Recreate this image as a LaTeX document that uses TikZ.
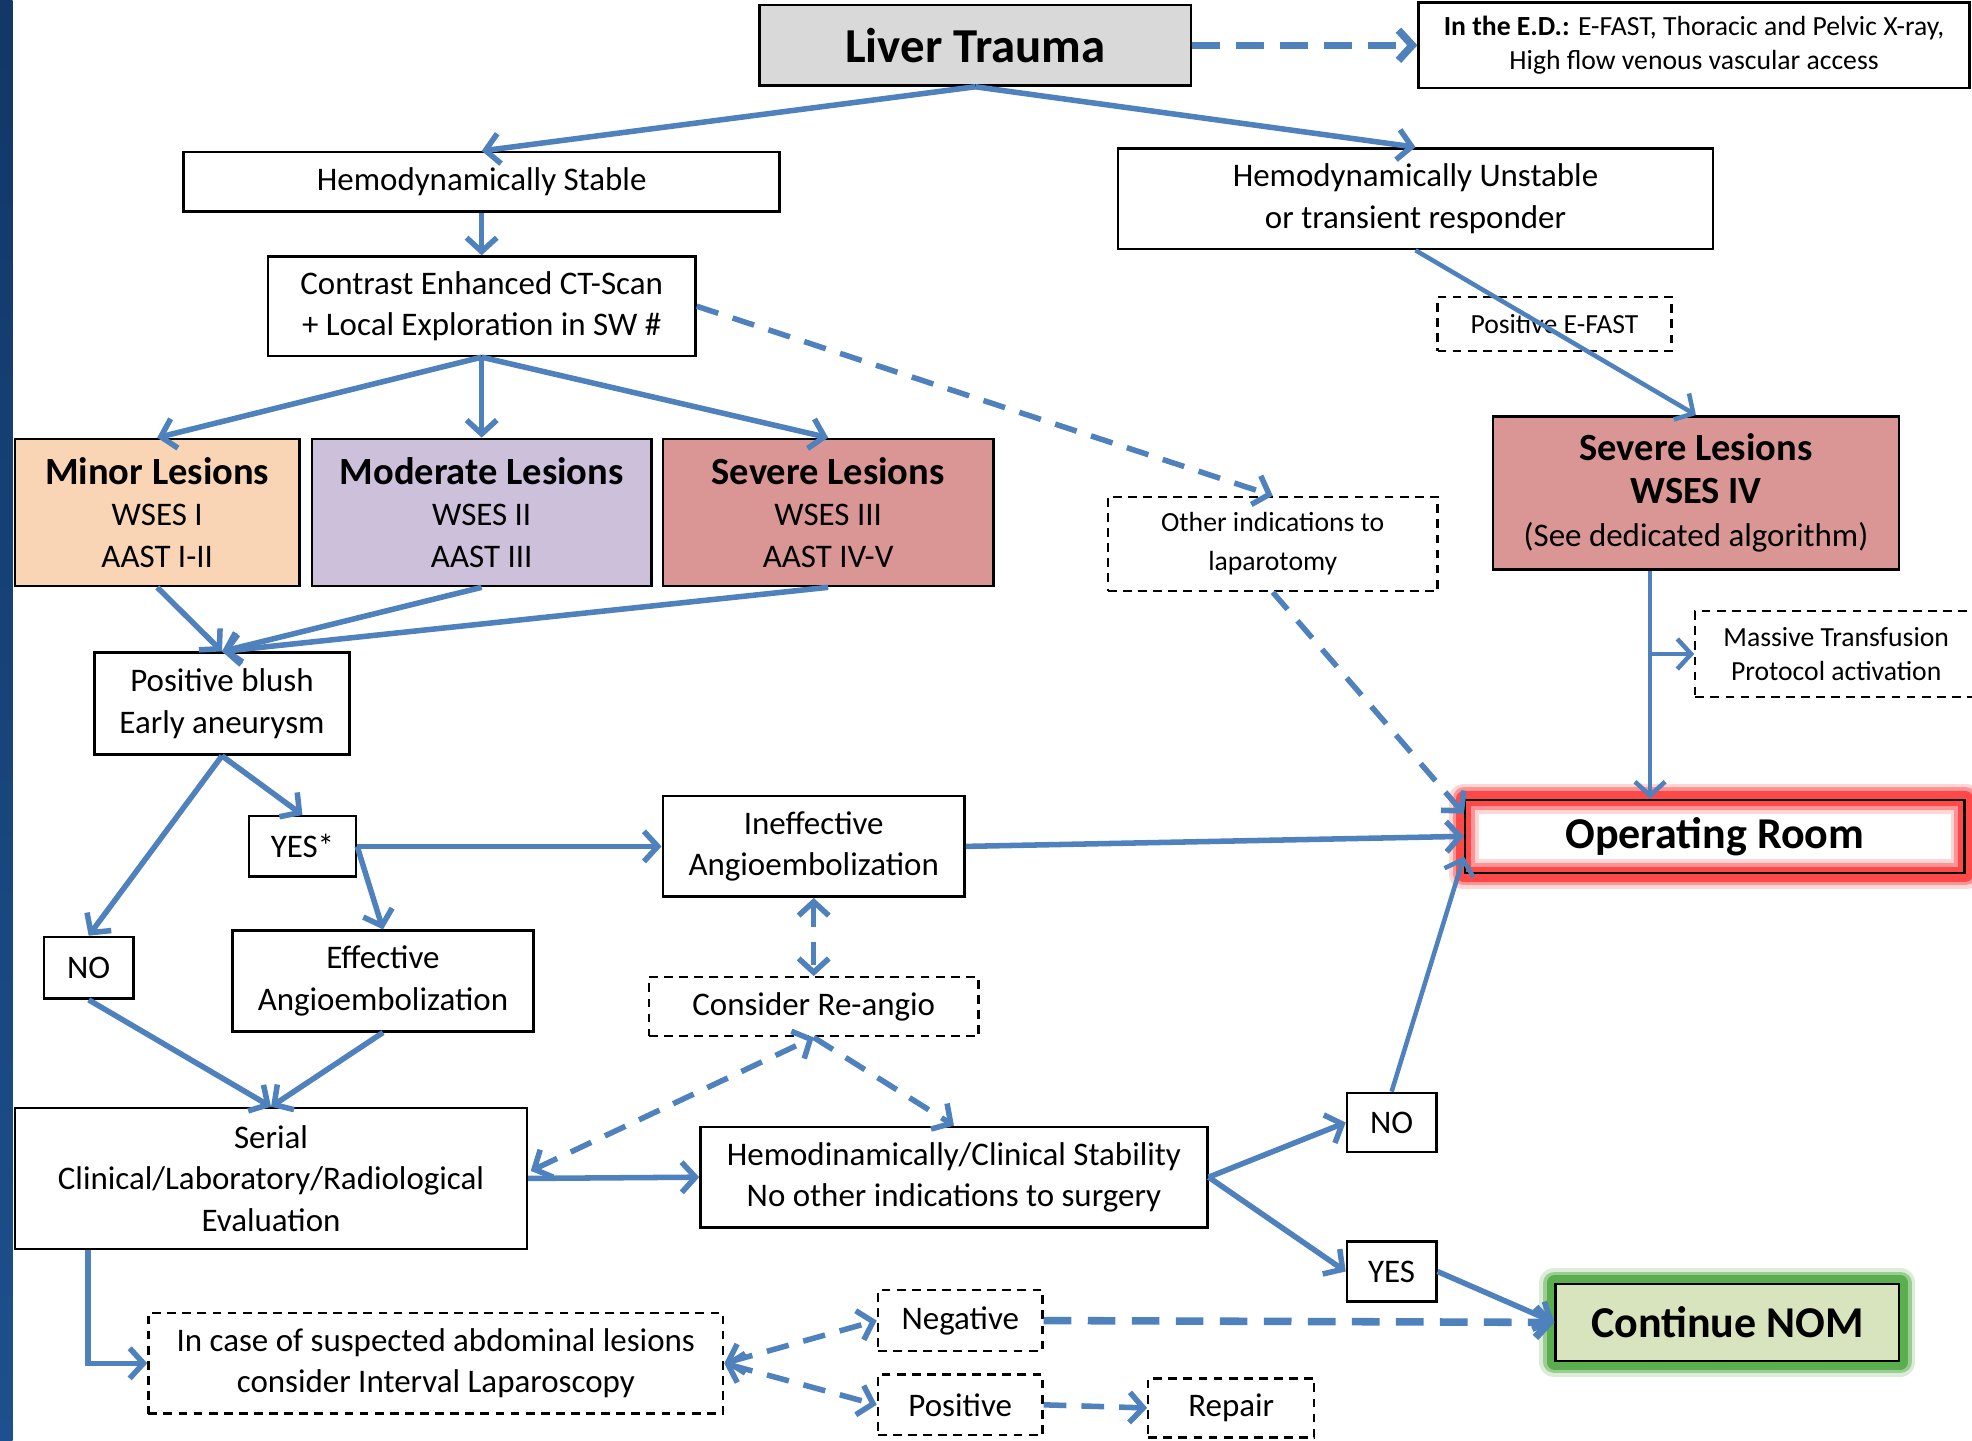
\documentclass[tikz,border=0pt]{standalone}
\usepackage{fontspec}
\setmainfont{Carlito}
\usetikzlibrary{arrows.meta,calc,backgrounds}
\definecolor{arrblue}{HTML}{4F81BD}
\definecolor{ltgray}{HTML}{D9D9D9}
\definecolor{minorc}{HTML}{FAD5B5}
\definecolor{modc}{HTML}{CCC0DA}
\definecolor{sevc}{HTML}{D99694}
\definecolor{nomc}{HTML}{D7E4BD}
\definecolor{glowred}{HTML}{FF3030}
\definecolor{glowgreen}{HTML}{4CA63C}
\definecolor{stripTop}{HTML}{123768}
\definecolor{stripBot}{HTML}{1D508C}
\newcommand\bodyf{\fontsize{13.1pt}{16.5pt}\selectfont}
\newcommand\smallf{\fontsize{11pt}{13.5pt}\selectfont}
\newcommand\headf{\fontsize{15.3pt}{18pt}\selectfont\bfseries}
\newcommand\titlef{\fontsize{19.4pt}{22pt}\selectfont\bfseries}
\newcommand\bigf{\fontsize{17.5pt}{20pt}\selectfont\bfseries}
\newcommand\mkbox[7]{\node[#6,minimum width={(#4-#2)*0.5pt},minimum height={(#5-#3)*0.5pt}] (#1) at ({(#2+#4)/2},{(#3+#5)/2}) {#7};}
\tikzset{
  mytip/.tip={Straight Barb[length=5.5pt,width=12pt]},
  sbox/.style={draw=black,line width=1pt,fill=white,inner sep=0pt,align=center,font=\bodyf},
  dbox/.style={sbox,line width=0.9pt,dash pattern=on 3.5pt off 2.5pt},
  arr/.style={draw=arrblue,line width=2.2pt,-mytip},
  tarr/.style={arr,line width=1.8pt},
  darr/.style={arr,dash pattern=on 9pt off 6pt},
  darrtwo/.style={darr,mytip-mytip},
  tdarr/.style={arr,line width=3pt,dash pattern=on 11pt off 6.5pt}
}
\begin{document}
\begin{tikzpicture}[x=0.5pt,y=-0.5pt]
\useasboundingbox (0,0) rectangle (1568,1145);
% nodes
\mkbox{LT}{604}{4}{947}{68}{sbox,fill=ltgray,font=\titlef}{Liver Trauma}
\mkbox{ED}{1128}{2}{1566}{70}{sbox,font=\smallf}{\textbf{In the E.D.:} E-FAST, Thoracic and Pelvic X-ray,\\High flow venous vascular access}
\mkbox{HS}{146}{121}{620}{168}{sbox}{Hemodynamically Stable}
\mkbox{HU}{889}{118}{1362}{198}{sbox}{Hemodynamically Unstable\\or transient responder}
\mkbox{CT}{213}{204}{553}{283}{sbox}{Contrast Enhanced CT-Scan\\+ Local Exploration in SW \#}
\mkbox{PEF}{1143}{236}{1329}{279}{dbox,font=\smallf}{Positive E-FAST}
\mkbox{MIN}{12}{349}{238}{466}{sbox,fill=minorc}{{\headf Minor Lesions}\\WSES I\\AAST I-II}
\mkbox{MOD}{248}{349}{518}{466}{sbox,fill=modc}{{\headf Moderate Lesions}\\WSES II\\AAST III}
\mkbox{SEV}{527}{349}{790}{466}{sbox,fill=sevc}{{\headf Severe Lesions}\\WSES III\\AAST IV-V}
\mkbox{SEV4}{1187}{331}{1510}{453}{sbox,fill=sevc}{{\headf Severe Lesions}\\[0.5pt]{\headf WSES IV}\\[0.5pt](See dedicated algorithm)}
\mkbox{OTH}{881}{395}{1143}{470}{dbox,font=\fontsize{11pt}{15.5pt}\selectfont}{Other indications to\\laparotomy}
\mkbox{MTP}{1348}{486}{1572}{554}{dbox,font=\smallf}{Massive Transfusion\\Protocol activation}
\mkbox{PB}{75}{519}{278}{600}{sbox}{Positive blush\\Early aneurysm}
\mkbox{YS}{198}{649}{283}{697}{sbox}{YES*}
\mkbox{INE}{527}{633}{767}{713}{sbox}{Ineffective\\Angioembolization}
\mkbox{OR}{1165}{636}{1562}{694}{sbox,fill=none,font=\bigf}{Operating Room}
\mkbox{NOa}{35}{745}{106}{794}{sbox}{NO}
\mkbox{EFF}{185}{740}{424}{820}{sbox}{Effective\\Angioembolization}
\mkbox{RA}{516}{777}{778}{824}{dbox}{Consider Re-angio}
\mkbox{SER}{12}{881}{419}{993}{sbox}{Serial\\Clinical/Laboratory/Radiological\\Evaluation}
\mkbox{STAB}{557}{896}{960}{976}{sbox}{Hemodinamically/Clinical Stability\\No other indications to surgery}
\mkbox{NOb}{1071}{869}{1142}{916}{sbox}{NO}
\mkbox{YSb}{1071}{987}{1142}{1035}{sbox}{YES}
\mkbox{NOM}{1237}{1021}{1510}{1082}{sbox,fill=none,font=\bigf}{Continue NOM}
\mkbox{INC}{118}{1044}{575}{1124}{dbox}{In case of suspected abdominal lesions\\consider Interval Laparoscopy}
\mkbox{NEG}{698}{1026}{829}{1074}{dbox}{Negative}
\mkbox{POS}{698}{1093}{829}{1141}{dbox}{Positive}
\mkbox{REP}{913}{1096}{1045}{1143}{dbox}{Repair}
% background: strip and glows
\begin{scope}[on background layer]
  \shade[top color=stripTop,bottom color=stripBot] (0,0) rectangle (10,1145);
  \fill[white] (OR.north west) rectangle (OR.south east);
  \foreach \w/\o in {12pt/0.2,9pt/0.4,6pt/0.75}{
    \draw[glowred,line width=\w,opacity=\o,line join=round] (OR.north west) rectangle (OR.south east);
  }
  \foreach \w/\o in {12pt/0.2,9pt/0.45,6pt/0.8}{
    \draw[glowgreen,line width=\w,opacity=\o,line join=round] (NOM.north west) rectangle (NOM.south east);
  }
  \fill[nomc] (NOM.north west) rectangle (NOM.south east);
\end{scope}
% connectors
\draw[arr] (LT.south) -- (HS.north);
\draw[arr] (LT.south) -- (HU.north);
\draw[tdarr] (LT.east) -- (ED.west);
\draw[arr] (HS.south) -- (CT.north);
\draw[arr] (CT.south) -- (MIN.north);
\draw[arr] (CT.south) -- (MOD.north);
\draw[arr] (CT.south) -- (SEV.north);
\draw[darr] (CT.east) -- (OTH.north);
\draw[tarr] (HU.south) -- (SEV4.north);
\draw[arr] (MIN.south) -- (PB.north);
\draw[arr] (MOD.south) -- (PB.north);
\draw[arr] (SEV.south) -- (PB.north);
\draw[arr] (PB.south) -- (YS.north);
\draw[arr] (PB.south) -- (NOa.north);
\draw[arr] (YS.east) -- (INE.west);
\draw[arr] (YS.east) -- (EFF.north);
\draw[arr] (INE.east) -- (OR.west);
\draw[darrtwo] (INE.south) -- (RA.north);
\draw[darr] (OTH.south) -- ($(OR.north west)+(0,12)$);
\coordinate (s4) at ($(SEV4.south)+(-36.5,0)$);
\draw[tarr] (s4) -- (s4 |- OR.north);
\draw[tarr] (s4 |- MTP.west) -- (MTP.west);
\draw[arr] (NOa.south) -- (SER.north);
\draw[arr] (EFF.south) -- (SER.north);
\draw[arr] (SER.east) -- (STAB.west);
\draw[darrtwo] ($(SER.east)+(2,-6)$) -- (RA.south);
\draw[darr] (RA.south) -- (STAB.north);
\draw[arr] (STAB.east) -- (NOb.west);
\draw[arr] (STAB.east) -- (YSb.west);
\draw[tarr] (NOb.north) -- ($(OR.south west)+(0,-14)$);
\draw[arr] (YSb.east) -- (NOM.west);
\coordinate (sb) at ($(SER.south west)+(59,0)$);
\draw[arr] (sb) |- (INC.west);
\draw[darrtwo] (INC.east) -- (NEG.west);
\draw[darrtwo] (INC.east) -- (POS.west);
\draw[tdarr] (NEG.east) -- (NOM.west);
\draw[darr] (POS.east) -- (REP.west);
\end{tikzpicture}
\end{document}
